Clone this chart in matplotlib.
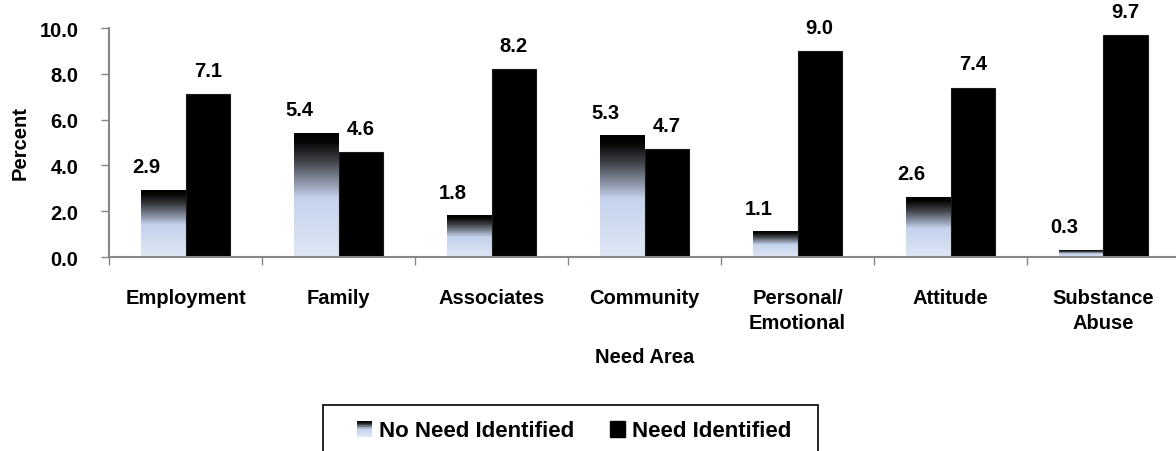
import numpy as np
import matplotlib
matplotlib.use("Agg")
import matplotlib.pyplot as plt
from matplotlib.colors import LinearSegmentedColormap
from matplotlib.legend_handler import HandlerBase
from matplotlib.patches import Rectangle, Patch

# need areas and percentages per group
categories = ["Employment", "Family", "Associates", "Community",
              "Personal/\nEmotional", "Attitude", "Substance\nAbuse"]
no_need = [2.9, 5.4, 1.8, 5.3, 1.1, 2.6, 0.3]
need = [7.1, 4.6, 8.2, 4.7, 9.0, 7.4, 9.7]
series_names = ["No Need Identified", "Need Identified"]
yticks = [0, 2, 4, 6, 8, 10]

plt.rcParams["font.family"] = ["Liberation Sans", "DejaVu Sans"]
plt.rcParams["font.weight"] = "bold"
FS = 14.5
GRAY = "#868686"

# light blue at the base fading to black at the top of each bar
grad = LinearSegmentedColormap.from_list("blueblack", [
    (0.0, "#dfe7f5"), (0.48, "#c4d2ec"), (0.6, "#8d96a8"),
    (0.78, "#3d4046"), (0.93, "#060606"), (1.0, "#000000")])


class GradientHandler(HandlerBase):
    def create_artists(self, legend, orig_handle, xdescent, ydescent,
                       width, height, fontsize, trans):
        n = 24
        out = []
        for i in range(n):
            r = Rectangle((-xdescent, -ydescent + height * i / n), width,
                          height / n * 1.05, facecolor=grad((i + 0.5) / n),
                          edgecolor="none", transform=trans)
            out.append(r)
        return out


fig = plt.figure(figsize=(11.76, 4.52), dpi=100)
ax = fig.add_axes([0.0927, 0.4292, 0.9107, 0.5066])

x = np.arange(len(categories)) + 0.5
w = 0.29
grad_col = np.linspace(0, 1, 256).reshape(-1, 1)

bars1 = ax.bar(x - w / 2, no_need, w, facecolor="none", edgecolor="none")
for b in bars1:
    x0, h = b.get_x(), b.get_height()
    ax.imshow(grad_col, extent=[x0, x0 + w, 0, h], origin="lower",
              aspect="auto", cmap=grad, zorder=2, interpolation="bilinear")
bars2 = ax.bar(x + w / 2, need, w, color="black", edgecolor="#1a1a1a",
               linewidth=0.8, zorder=2)

for b, v in zip(bars1, no_need):
    ax.annotate(f"{v:.1f}", (b.get_x() + w / 2, v), xytext=(-12, 17),
                textcoords="offset points", ha="center", va="center",
                fontsize=FS, fontweight="bold")
for b, v in zip(bars2, need):
    ax.annotate(f"{v:.1f}", (b.get_x() + w / 2, v), xytext=(0, 17),
                textcoords="offset points", ha="center", va="center",
                fontsize=FS, fontweight="bold")

ax.set_xlim(0, len(categories))
ax.set_ylim(0, 10)
ax.set_yticks(yticks)
ax.set_yticklabels([f"{t:.1f}" for t in yticks], fontsize=FS, fontweight="bold")
ax.set_xticks(np.arange(len(categories) + 1))
ax.set_xticklabels([])
ax.set_xticks(x, minor=True)
ax.set_xticklabels(categories, minor=True, fontsize=FS, fontweight="bold",
                   linespacing=1.4)
ax.tick_params(axis="x", which="minor", length=0, pad=22)
ax.tick_params(axis="x", which="major", length=6, color=GRAY, width=1)
ax.tick_params(axis="y", length=6, color=GRAY, width=1, pad=16)

for s in ["top", "right"]:
    ax.spines[s].set_visible(False)
for s in ["left", "bottom"]:
    ax.spines[s].set_color(GRAY)
    ax.spines[s].set_linewidth(1.5)

ax.set_ylabel("Percent", fontsize=FS, fontweight="bold")
ax.yaxis.set_label_coords(-0.0745, 0.5)
fig.text(0.548, 1 - 358 / 452, "Need Area", ha="center", va="center",
         fontsize=FS, fontweight="bold")

# legend box drawn separately so it can be wider than its contents
fig.patches.append(Rectangle((323 / 1176, -0.02), (818 - 323) / 1176,
                             0.02 + 1 - 406 / 452, transform=fig.transFigure,
                             facecolor="white", edgecolor="black",
                             linewidth=1.2, zorder=4))
handles = [Patch(), Patch(facecolor="black", edgecolor="black")]
leg = fig.legend(handles, series_names, loc="center",
                 bbox_to_anchor=(0.488, 1 - 432 / 452), ncol=2,
                 fontsize=16, frameon=False,
                 handler_map={handles[0]: GradientHandler()},
                 handlelength=0.7, handleheight=0.7, handletextpad=0.3,
                 columnspacing=1.6, borderpad=0, borderaxespad=0)
for t in leg.get_texts():
    t.set_fontweight("bold")
leg.set_zorder(5)

fig.savefig("out.png", dpi=100)
